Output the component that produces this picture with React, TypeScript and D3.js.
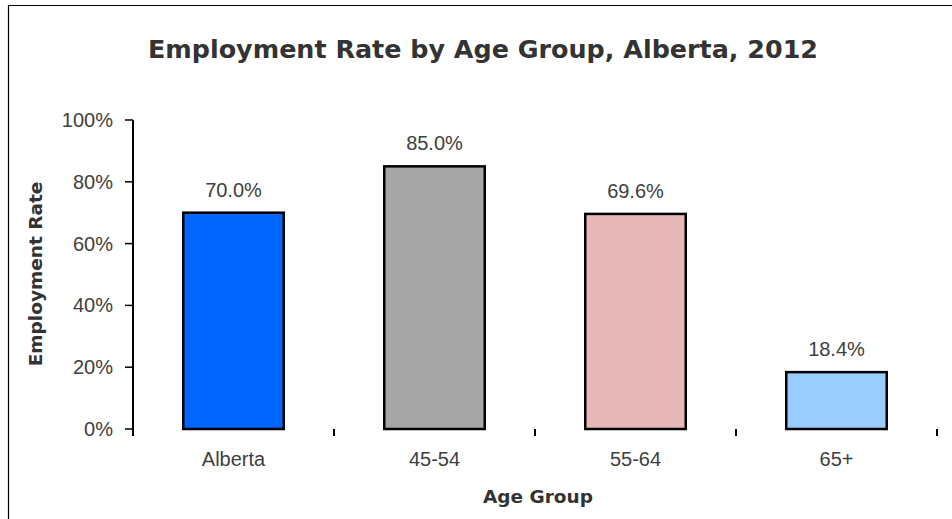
import React from "react";
import * as d3 from "d3";

const categories = ["Alberta", "45-54", "55-64", "65+"];
const values = [70.0, 85.0, 69.6, 18.4];
const barColors = ["#0066FF", "#A6A6A6", "#E6B9B8", "#99CCFF"];
const yTicks = [0, 20, 40, 60, 80, 100];
const title = "Employment Rate by Age Group, Alberta, 2012";
const xTitle = "Age Group";
const yTitle = "Employment Rate";

const W = 952;
const H = 519;
const left = 133;
const right = 937;
const top = 120;
const bottom = 429;

export default function App() {
  const x = d3.scaleBand<string>().domain(categories).range([left, right]).paddingInner(0.5).paddingOuter(0.25);
  const y = d3.scaleLinear().domain([0, 100]).range([bottom, top]);
  const step = x.step();
  const numFont = "'Liberation Sans', Arial, sans-serif";
  const boldFont = "'DejaVu Sans', Verdana, sans-serif";
  return (
    <svg width={W} height={H} style={{ position: "absolute", left: 0, top: 0, background: "#fff" }}>
      <rect x={0} y={0} width={W} height={H} fill="#fff" />
      <path d={`M8.5,${H + 2}V5.5H${W + 2}`} fill="none" stroke="#000" strokeWidth={1.2} />
      <text x={483} y={58} textAnchor="middle" fontFamily={boldFont} fontWeight="bold" fontSize={25.4} fill="#333">
        {title}
      </text>
      {/* y axis */}
      <line x1={left} x2={left} y1={top} y2={bottom + 7} stroke="#000" strokeWidth={2} />
      {yTicks.map((t) => (
        <g key={t}>
          <line x1={left - 8} x2={left} y1={y(t)} y2={y(t)} stroke="#000" strokeWidth={1.5} />
          <text x={113} y={y(t) + 7} textAnchor="end" fontFamily={numFont} fontSize={20} fill="#404040">
            {t}%
          </text>
        </g>
      ))}
      {categories.map((c, i) => (
        <line key={"t" + c} x1={left + step * (i + 1)} x2={left + step * (i + 1)} y1={bottom} y2={bottom + 7} stroke="#000" strokeWidth={2} />
      ))}
      {categories.map((c, i) => (
        <g key={c}>
          <rect
            x={x(c)!}
            y={y(values[i])}
            width={x.bandwidth()}
            height={bottom - y(values[i])}
            fill={barColors[i]}
            stroke="#000"
            strokeWidth={2.5}
          />
          <text x={x(c)! + x.bandwidth() / 2} y={y(values[i]) - 16} textAnchor="middle" fontFamily={numFont} fontSize={20} fill="#404040">
            {values[i].toFixed(1)}%
          </text>
          <text x={x(c)! + x.bandwidth() / 2} y={466} textAnchor="middle" fontFamily={numFont} fontSize={20} fill="#404040">
            {c}
          </text>
        </g>
      ))}
      <text x={538} y={503} textAnchor="middle" fontFamily={boldFont} fontWeight="bold" fontSize={18.5} fill="#333">
        {xTitle}
      </text>
      <text transform={`translate(42,274) rotate(-90)`} textAnchor="middle" fontFamily={boldFont} fontWeight="bold" fontSize={18.5} fill="#333">
        {yTitle}
      </text>
    </svg>
  );
}
